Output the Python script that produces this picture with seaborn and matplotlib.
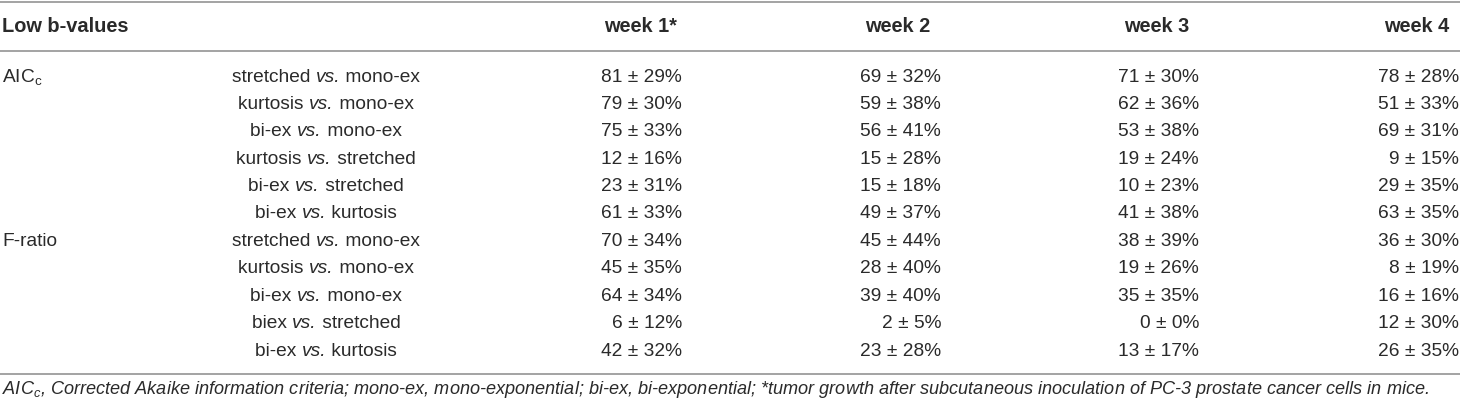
import numpy as np
import matplotlib
matplotlib.use("Agg")
import matplotlib.pyplot as plt
import seaborn as sns

# table content
weeks = ["week 1*", "week 2", "week 3", "week 4"]
groups = ["AIC$_{\\mathregular{c}}$", "F-ratio"]
group_rows = [0, 6]
comparisons = [
    ("stretched", "mono-ex"), ("kurtosis", "mono-ex"), ("bi-ex", "mono-ex"),
    ("kurtosis", "stretched"), ("bi-ex", "stretched"), ("bi-ex", "kurtosis"),
    ("stretched", "mono-ex"), ("kurtosis", "mono-ex"), ("bi-ex", "mono-ex"),
    ("biex", "stretched"), ("bi-ex", "kurtosis"),
]
mean_w1 = [81, 79, 75, 12, 23, 61, 70, 45, 64, 6, 42]
sd_w1 = [29, 30, 33, 16, 31, 33, 34, 35, 34, 12, 32]
mean_w2 = [69, 59, 56, 15, 15, 49, 45, 28, 39, 2, 23]
sd_w2 = [32, 38, 41, 28, 18, 37, 44, 40, 40, 5, 28]
mean_w3 = [71, 62, 53, 19, 10, 41, 38, 19, 35, 0, 13]
sd_w3 = [30, 36, 38, 24, 23, 38, 39, 26, 35, 0, 17]
mean_w4 = [78, 51, 69, 9, 29, 63, 36, 8, 16, 12, 26]
sd_w4 = [28, 33, 31, 15, 35, 35, 30, 19, 16, 30, 35]
footnote = ("AIC$_{\\mathit{c}}$, Corrected Akaike information criteria; mono-ex, mono-exponential; "
            "bi-ex, bi-exponential; *tumor growth after subcutaneous inoculation of PC-3 "
            "prostate cancer cells in mice.")

sns.set_theme(style="white")
plt.rcParams["font.family"] = ["Liberation Sans", "DejaVu Sans"]
plt.rcParams["mathtext.fontset"] = "custom"
plt.rcParams["mathtext.rm"] = "Liberation Sans"
plt.rcParams["mathtext.it"] = "Liberation Sans:italic"

ink = "#2a2a2a"
rule = "#9c9c9c"
fs = 13.8
fs_head = 14.4

fig = plt.figure(figsize=(14.6, 4.05), dpi=100)
ax = fig.add_axes([0, 0, 1, 1])
ax.set_xlim(0, 1460)
ax.set_ylim(405, 0)
ax.axis("off")
renderer = fig.canvas.get_renderer()


def text_width(s, **kw):
    t = ax.text(0, 0, s, **kw)
    w = t.get_window_extent(renderer).width
    t.remove()
    return w


row0, row_h = 77, 27.4
val_right = [682, 941, 1199, 1459]
head_center = [640, 898, 1157, 1417]
comp_center = 326

# rules
for y in [1.5, 51, 374]:
    ax.axhline(y, color=rule, lw=1.3)

# header
ax.text(2, 26, "Low b-values", fontsize=fs_head, fontweight="bold", color=ink, va="center", ha="left")
for x, w in zip(head_center, weeks):
    ax.text(x, 26, w, fontsize=fs_head, fontweight="bold", color=ink, va="center", ha="center")

# body
means = [mean_w1, mean_w2, mean_w3, mean_w4]
sds = [sd_w1, sd_w2, sd_w3, sd_w4]
for i, (a, b) in enumerate(comparisons):
    y = row0 + i * row_h
    parts = [(a + " ", "normal"), ("vs.", "italic"), (" " + b, "normal")]
    widths = [text_width(p.replace(" ", "\u00a0"), fontsize=fs, fontstyle=st) for p, st in parts]
    x = comp_center - sum(widths) / 2
    for (p, st), w in zip(parts, widths):
        ax.text(x, y, p.replace(" ", "\u00a0"), fontsize=fs, fontstyle=st, color=ink,
                va="center", ha="left")
        x += w
    for k in range(4):
        ax.text(val_right[k], y, f"{means[k][i]} \u00b1 {sds[k][i]}%", fontsize=fs,
                color=ink, va="center", ha="right")
for g, r in zip(groups, group_rows):
    ax.text(2, row0 + r * row_h, g, fontsize=fs, color=ink, va="center", ha="left")

# footnote scaled to run across the width like the reference
fn_w = text_width(footnote, fontsize=12, fontstyle="italic")
ax.text(2, 390, footnote, fontsize=12 * 1426 / fn_w, fontstyle="italic", color=ink,
        va="center", ha="left")

fig.savefig("out.png", dpi=100)
